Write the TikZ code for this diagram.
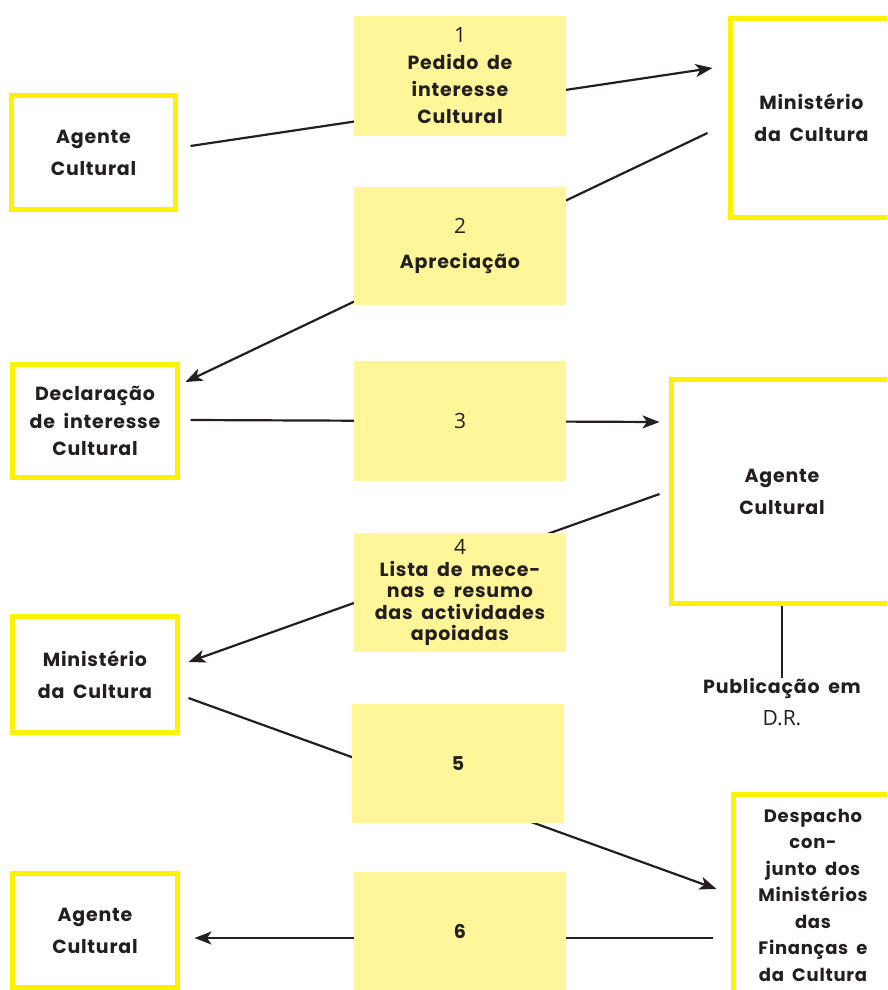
\documentclass[tikz,border=0pt]{standalone}
\usepackage{fontspec}
\setmainfont{Poppins}[LetterSpace=4,WordSpace=1.8]
\newfontfamily\numfont{Open Sans}
\usetikzlibrary{arrows.meta,calc,backgrounds}
\definecolor{ybord}{RGB}{255,242,0}
\definecolor{yfill}{RGB}{255,246,153}
\definecolor{ink}{RGB}{35,31,32}
\begin{document}
\begin{tikzpicture}[x=1pt,y=-1pt,
 framebox/.style={draw=ybord,line width=5pt,fill=white,inner sep=0pt,align=center,text=ink,font=\fontsize{19}{32}\selectfont\bfseries},
 stepbox/.style={fill=yfill,inner sep=0pt,minimum width=212pt,minimum height=119pt,align=center,text=ink,font=\fontsize{19}{27}\selectfont\bfseries},
 conn/.style={draw=ink,line width=2.2pt},
 arr/.style={conn,-{Stealth[length=17pt,width=13pt,inset=4.5pt]}}]
\useasboundingbox (0,0) rectangle (887,990);
\clip (0,0) rectangle (887,990);
% framed boxes
\node[framebox,minimum width=164pt,minimum height=114pt] (ag1) at (93.5,152.5) {Agente\\Cultural};
\node[framebox,minimum width=162pt,minimum height=199pt] (min1) at (811.5,118) {Ministério\\da Cultura};
\node[framebox,minimum width=165pt,minimum height=113pt,font=\fontsize{19}{27.5}\selectfont\bfseries] (decl) at (95,421) {Declaração\\de interesse\\Cultural};
\node[framebox,minimum width=221pt,minimum height=224pt] (ag2) at (782,491.5) {Agente\\Cultural};
\node[framebox,minimum width=165pt,minimum height=116pt] (min2) at (95,674.5) {Ministério\\da Cultura};
\node[framebox,minimum width=159pt,minimum height=201pt,font=\fontsize{18}{26.5}\selectfont\bfseries] (desp) at (813,895) {Despacho\\con-\\junto dos\\Ministérios\\das\\Finanças e\\da Cultura};
\node[framebox,minimum width=165pt,minimum height=114pt] (ag3) at (95,930.5) {Agente\\Cultural};
% step boxes
\node[stepbox] (b1) at (460,76) {{\mdseries\numfont\fontsize{21}{27}\selectfont 1}\\Pedido de\\interesse\\Cultural};
\node[stepbox,minimum height=118pt] (b2) at (460,246) {{\mdseries\numfont\fontsize{21}{27}\selectfont 2}\\[8pt]Apreciação};
\node[stepbox,minimum height=120pt,font=\fontsize{21}{27}\selectfont\numfont] (b3) at (460,421) {3};
\node[stepbox,font=\fontsize{19}{21.5}\selectfont\bfseries] (b4) at (460,592.5) {{\mdseries\numfont\fontsize{21}{21.5}\selectfont 4}\\Lista de mece-\\nas e resumo\\das actividades\\apoiadas};
\node[stepbox] (b5) at (458,763.5) {5};
\node[stepbox,minimum height=118pt] (b6) at (460,931) {6};
% publication note
\node[align=center,text=ink,inner sep=0pt,font=\fontsize{19}{32}\selectfont\bfseries] (pub) at (782,702) {Publicação em\\{\mdseries\numfont\fontsize{21}{32}\selectfont D.R.}};
% connector end points
\coordinate (c1a) at ($(ag1.east)+(12.5,-6.5)$);
\coordinate (c1b) at ($(min1.west)+(-15.5,-50)$);
\coordinate (c2a) at ($(min1.west)+(-20.5,15)$);
\coordinate (c2b) at ($(decl.east)+(5.5,-39)$);
\coordinate (c3a) at ($(decl.east)+(10.5,-1)$);
\coordinate (c3b) at ($(ag2.west)+(-9.5,-69.5)$);
\coordinate (c4a) at ($(ag2.west)+(-9.5,2.5)$);
\coordinate (c4b) at ($(min2.east)+(8.5,-12.5)$);
\coordinate (c5a) at ($(min2.east)+(8.5,23.5)$);
\coordinate (c5b) at ($(desp.west)+(-14.5,-6)$);
\coordinate (c6a) at ($(desp.west)+(-18.5,43)$);
\coordinate (c6b) at ($(ag3.east)+(14.5,7.5)$);
\begin{scope}[on background layer]
\draw[arr] (c1a) -- (c1b);
\draw[arr] (c2a) -- (c2b);
\draw[arr] (c3a) -- (c3b);
\draw[arr] (c4a) -- (c4b);
\draw[arr] (c5a) -- (c5b);
\draw[arr] (c6a) -- (c6b);
\end{scope}
\draw[conn] (ag2.south) -- (pub.north);
\end{tikzpicture}
\end{document}
